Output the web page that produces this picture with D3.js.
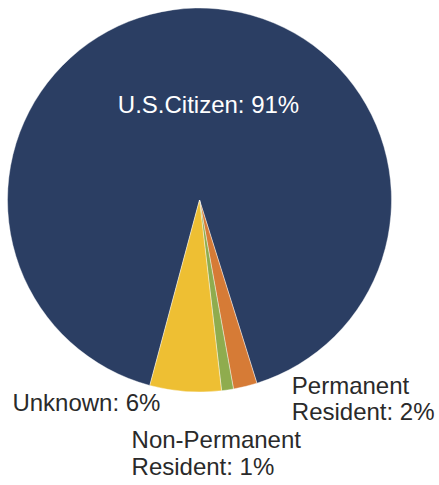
<!DOCTYPE html>
<html>
<head>
<meta charset="utf-8">
<script src="https://cdn.jsdelivr.net/npm/d3@7/dist/d3.min.js"></script>
<style>
  html, body { margin: 0; padding: 0; background: #fff; }
  svg { display: block; }
</style>
</head>
<body>
<svg id="chart" width="439" height="485"></svg>
<script>
// Citizenship status breakdown (percent)
const categories = ["U.S.Citizen", "Permanent Resident", "Non-Permanent Resident", "Unknown"];
const values = [91, 2, 1, 6];
const labelLines = [
  ["U.S.Citizen: 91%"],
  ["Permanent", "Resident: 2%"],
  ["Non-Permanent", "Resident: 1%"],
  ["Unknown: 6%"]
];
const colors = ["#2b3e63", "#d67b36", "#8fac4e", "#eebf33"];

const W = 439, H = 485;
const cx = 199.5, cy = 200, R = 192;
const fontFamily = "'Liberation Sans', Arial, Helvetica, sans-serif";
const fontSize = 24, lineGap = 26.5;

const svg = d3.select("#chart");
const g = svg.append("g").attr("transform", `translate(${cx},${cy})`);

const data = categories.map((c, i) => ({ name: c, value: values[i], lines: labelLines[i], color: colors[i] }));

const pie = d3.pie()
  .value(d => d.value)
  .sort(null)
  .startAngle(-165 * Math.PI / 180)
  .endAngle(195 * Math.PI / 180);

const arcs = pie(data);
const arc = d3.arc().innerRadius(0).outerRadius(R);

g.selectAll("path.slice")
  .data(arcs)
  .join("path")
  .attr("class", "slice")
  .attr("d", arc)
  .attr("fill", d => d.data.color)
  .attr("stroke", "#ffffff")
  .attr("stroke-width", 0.4);

// Point on the rim at the middle of a slice
function rimPoint(d, r) {
  const a = (d.startAngle + d.endAngle) / 2;
  return [r * Math.sin(a), -r * Math.cos(a)];
}

// Label placement: the big slice gets an inside label, small ones sit just outside the rim
const placement = {
  "U.S.Citizen":            { r: 0,   dx: 9,    dy: -87,  anchor: "middle", fill: "#ffffff" },
  "Permanent Resident":     { r: R,   dx: 46.5, dy: 7.5,  anchor: "start",  fill: "#2a2a2a" },
  "Non-Permanent Resident": { r: R,   dx: -96,  dy: 58.5, anchor: "start",  fill: "#2a2a2a" },
  "Unknown":                { r: R,   dx: -25,  dy: 20,   anchor: "end",    fill: "#2a2a2a" }
};

arcs.forEach(d => {
  const p = placement[d.data.name];
  const [px, py] = p.r === 0 ? [0, 0] : rimPoint(d, p.r);
  const t = g.append("text")
    .attr("x", px + p.dx)
    .attr("y", py + p.dy)
    .attr("text-anchor", p.anchor)
    .attr("fill", p.fill)
    .style("font-family", fontFamily)
    .style("font-size", fontSize + "px");
  d.data.lines.forEach((line, i) => {
    t.append("tspan")
      .attr("x", px + p.dx)
      .attr("dy", i === 0 ? 0 : lineGap)
      .text(line);
  });
});
</script>
</body>
</html>
